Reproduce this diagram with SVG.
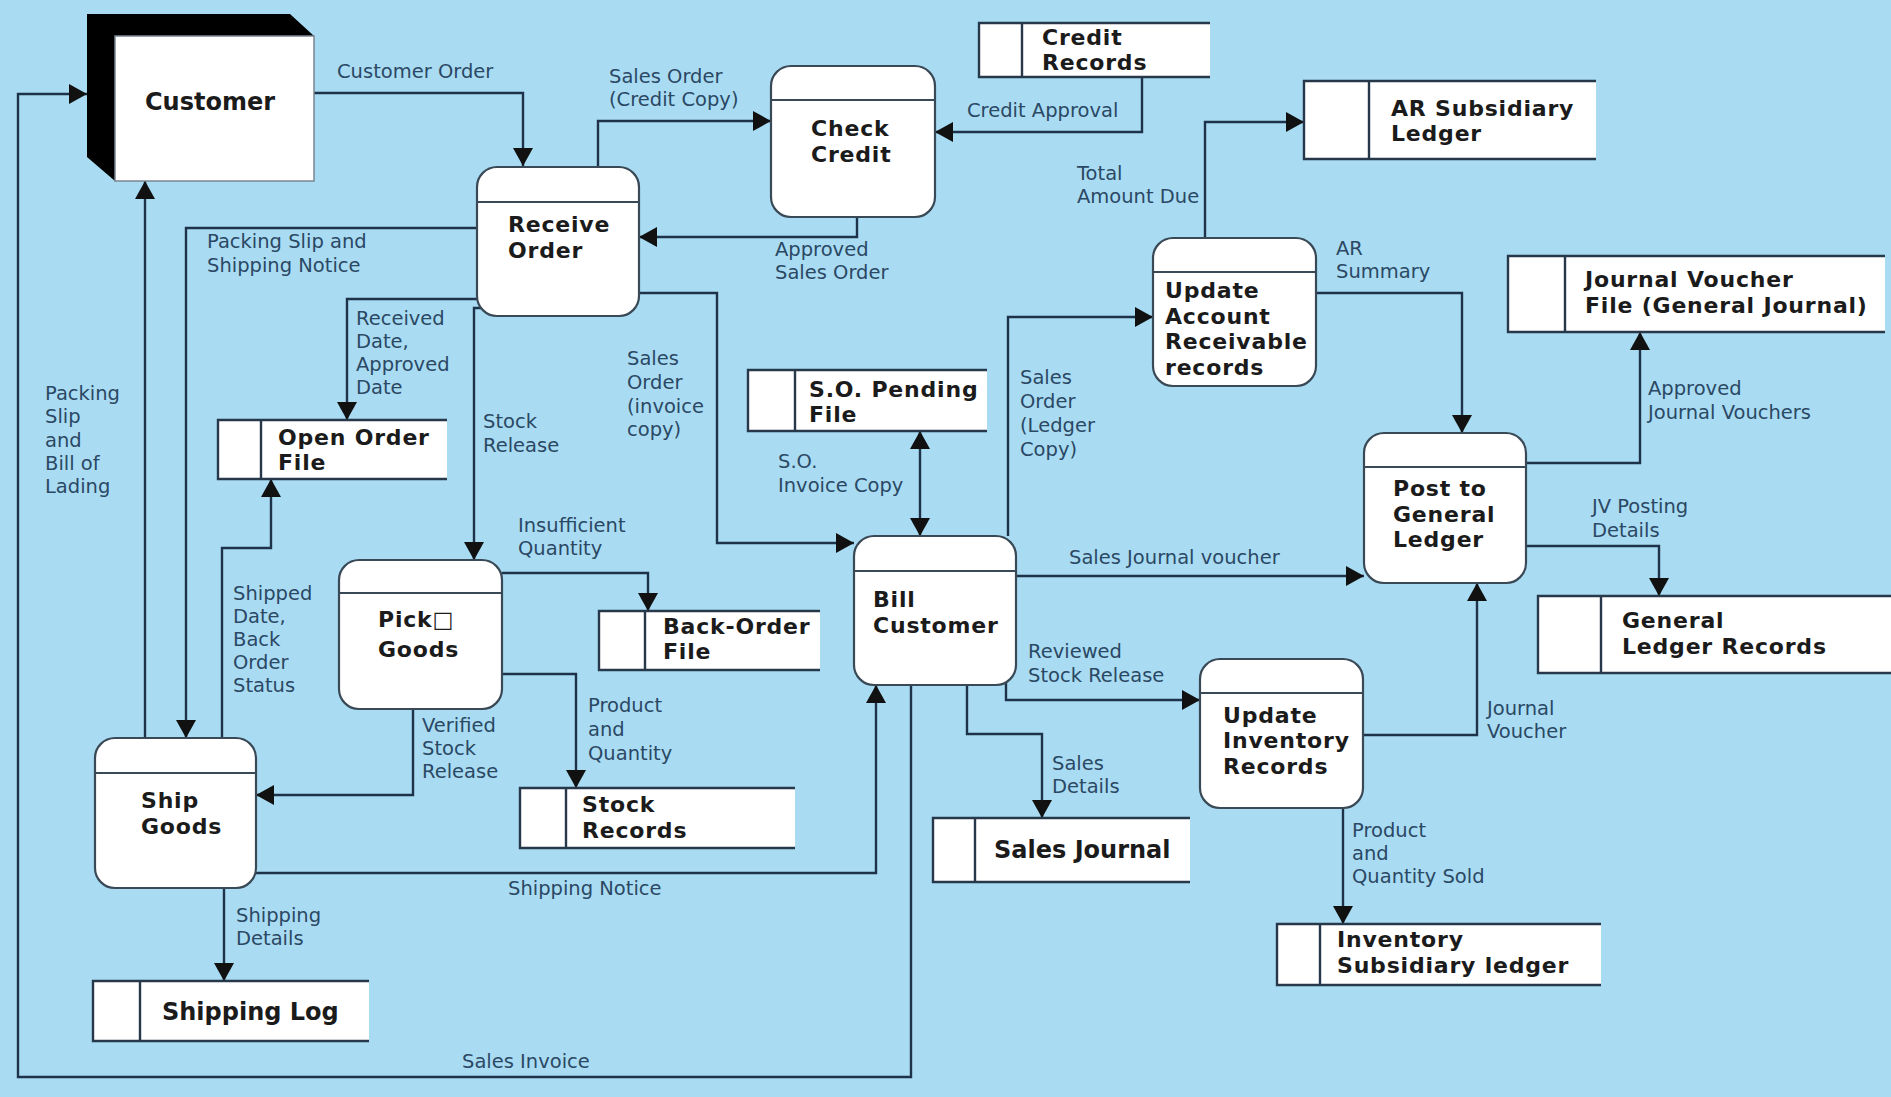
<svg xmlns="http://www.w3.org/2000/svg" width="1891" height="1097" viewBox="0 0 1891 1097">
<defs>
<style>
.bg{fill:#a9dcf3}
.proc{fill:#ffffff;stroke:#3a4956;stroke-width:2.2}
.div{stroke:#3a4956;stroke-width:2.2}
.store{fill:#ffffff}
.sl{fill:none;stroke:#26384a;stroke-width:2.4}
.nt{font-family:"DejaVu Sans","Liberation Sans",sans-serif;font-weight:bold;font-size:22px;letter-spacing:0.8px;fill:#1b1b1b}
.big{font-size:24px;letter-spacing:0px}
.lb{font-family:"DejaVu Sans","Liberation Sans",sans-serif;font-size:19.5px;fill:#2b4864}
.c{fill:none;stroke:#1e3349;stroke-width:2.4}
.ce{marker-end:url(#ah)}
</style>
<marker id="ah" viewBox="0 0 18 20" refX="18" refY="10" markerWidth="18" markerHeight="20" markerUnits="userSpaceOnUse" orient="auto-start-reverse">
<path d="M0,0 L18,10 L0,20 Z" fill="#111111"/>
</marker>
</defs>
<rect class="bg" x="0" y="0" width="1891" height="1097"/>

<g id="connectors">
<path id="c-customer-order" class="c ce" d="M314,93 H523 V166"/>
<path id="c-sales-order-credit" class="c ce" d="M598,167 V121 H771"/>
<path id="c-credit-approval" class="c ce" d="M1142,77 V132 H935"/>
<path id="c-approved-so" class="c ce" d="M857,217 V237 H639"/>
<path id="c-packing-slip-notice" class="c ce" d="M477,228 H186 V738"/>
<path id="c-received-date" class="c ce" d="M478,299 H347 V420"/>
<path id="c-stock-release" class="c ce" d="M481,308 H474 V560"/>
<path id="c-so-invoice" class="c ce" d="M639,293 H717 V543 H854"/>
<path id="c-so-invoice-copy" class="c" d="M920,431 V536" marker-start="url(#ah)" marker-end="url(#ah)"/>
<path id="c-so-ledger" class="c ce" d="M1008,536 V317 H1153"/>
<path id="c-total-due" class="c ce" d="M1205,238 V122 H1304"/>
<path id="c-ar-summary" class="c ce" d="M1316,293 H1462 V433"/>
<path id="c-approved-jv" class="c ce" d="M1526,463 H1640 V332"/>
<path id="c-jv-posting" class="c ce" d="M1526,546 H1659 V596"/>
<path id="c-sales-journal-voucher" class="c ce" d="M1016,576 H1364"/>
<path id="c-reviewed-stock" class="c ce" d="M1006,683 V700 H1200"/>
<path id="c-sales-details" class="c ce" d="M967,685 V734 H1042 V818"/>
<path id="c-sales-invoice" class="c ce" d="M911,685 V1077 H18 V94 H87"/>
<path id="c-packing-bol" class="c ce" d="M145,738 V181"/>
<path id="c-shipped-date" class="c ce" d="M222,738 V548 H271 V479"/>
<path id="c-insufficient" class="c ce" d="M502,573 H648 V611"/>
<path id="c-product-qty" class="c ce" d="M502,674 H576 V788"/>
<path id="c-verified" class="c ce" d="M413,709 V795 H256"/>
<path id="c-shipping-notice" class="c ce" d="M256,873 H876 V685"/>
<path id="c-shipping-details" class="c ce" d="M224,888 V981"/>
<path id="c-journal-voucher" class="c ce" d="M1363,735 H1477 V583"/>
<path id="c-product-qty-sold" class="c ce" d="M1343,808 V924"/>
</g>

<g id="labels">
<text class="lb" x="337" y="78">Customer Order</text>
<text class="lb" x="609" y="83">Sales Order</text>
<text class="lb" x="609" y="106">(Credit Copy)</text>
<text class="lb" x="967" y="117">Credit Approval</text>
<text class="lb" x="775" y="256">Approved</text>
<text class="lb" x="775" y="279">Sales Order</text>
<text class="lb" x="207" y="248">Packing Slip and</text>
<text class="lb" x="207" y="272">Shipping Notice</text>
<text class="lb" x="356" y="325">Received</text>
<text class="lb" x="356" y="348">Date,</text>
<text class="lb" x="356" y="371">Approved</text>
<text class="lb" x="356" y="394">Date</text>
<text class="lb" x="483" y="428">Stock</text>
<text class="lb" x="483" y="452">Release</text>
<text class="lb" x="627" y="365">Sales</text>
<text class="lb" x="627" y="389">Order</text>
<text class="lb" x="627" y="413">(invoice</text>
<text class="lb" x="627" y="436">copy)</text>
<text class="lb" x="778" y="468">S.O.</text>
<text class="lb" x="778" y="492">Invoice Copy</text>
<text class="lb" x="1020" y="384">Sales</text>
<text class="lb" x="1020" y="408">Order</text>
<text class="lb" x="1020" y="432">(Ledger</text>
<text class="lb" x="1020" y="456">Copy)</text>
<text class="lb" x="1077" y="180">Total</text>
<text class="lb" x="1077" y="203">Amount Due</text>
<text class="lb" x="1336" y="255">AR</text>
<text class="lb" x="1336" y="278">Summary</text>
<text class="lb" x="1648" y="395">Approved</text>
<text class="lb" x="1648" y="419">Journal Vouchers</text>
<text class="lb" x="1592" y="513">JV Posting</text>
<text class="lb" x="1592" y="537">Details</text>
<text class="lb" x="1069" y="564">Sales Journal voucher</text>
<text class="lb" x="1028" y="658">Reviewed</text>
<text class="lb" x="1028" y="682">Stock Release</text>
<text class="lb" x="1052" y="770">Sales</text>
<text class="lb" x="1052" y="793">Details</text>
<text class="lb" x="462" y="1068">Sales Invoice</text>
<text class="lb" x="45" y="400">Packing</text>
<text class="lb" x="45" y="423">Slip</text>
<text class="lb" x="45" y="447">and</text>
<text class="lb" x="45" y="470">Bill of</text>
<text class="lb" x="45" y="493">Lading</text>
<text class="lb" x="233" y="600">Shipped</text>
<text class="lb" x="233" y="623">Date,</text>
<text class="lb" x="233" y="646">Back</text>
<text class="lb" x="233" y="669">Order</text>
<text class="lb" x="233" y="692">Status</text>
<text class="lb" x="518" y="532">Insufficient</text>
<text class="lb" x="518" y="555">Quantity</text>
<text class="lb" x="588" y="712">Product</text>
<text class="lb" x="588" y="736">and</text>
<text class="lb" x="588" y="760">Quantity</text>
<text class="lb" x="422" y="732">Verified</text>
<text class="lb" x="422" y="755">Stock</text>
<text class="lb" x="422" y="778">Release</text>
<text class="lb" x="508" y="895">Shipping Notice</text>
<text class="lb" x="236" y="922">Shipping</text>
<text class="lb" x="236" y="945">Details</text>
<text class="lb" x="1487" y="715">Journal</text>
<text class="lb" x="1487" y="738">Voucher</text>
<text class="lb" x="1352" y="837">Product</text>
<text class="lb" x="1352" y="860">and</text>
<text class="lb" x="1352" y="883">Quantity Sold</text>
</g>

<g id="customer">
<polygon points="87,14 290,14 314,36 115,36 115,181 87,157" fill="#000000"/>
<rect x="115" y="36" width="199" height="145" fill="#ffffff" stroke="#7a8590" stroke-width="1.5"/>
<text class="nt big" x="145" y="110">Customer</text>
</g>

<g id="receive-order">
<rect class="proc" x="477" y="167" width="162" height="149" rx="20"/>
<line class="div" x1="477" y1="202" x2="639" y2="202"/>
<text class="nt" x="508" y="232">Receive</text>
<text class="nt" x="508" y="257.8">Order</text>
</g>

<g id="check-credit">
<rect class="proc" x="771" y="66" width="164" height="151" rx="20"/>
<line class="div" x1="771" y1="100" x2="935" y2="100"/>
<text class="nt" x="811" y="136">Check</text>
<text class="nt" x="811" y="161.8">Credit</text>
</g>

<g id="update-ar">
<rect class="proc" x="1153" y="238" width="163" height="148" rx="20"/>
<line class="div" x1="1153" y1="272" x2="1316" y2="272"/>
<text class="nt" x="1165" y="298">Update</text>
<text class="nt" x="1165" y="323.7">Account</text>
<text class="nt" x="1165" y="349.4">Receivable</text>
<text class="nt" x="1165" y="375.1">records</text>
</g>

<g id="post-gl">
<rect class="proc" x="1364" y="433" width="162" height="150" rx="20"/>
<line class="div" x1="1364" y1="467" x2="1526" y2="467"/>
<text class="nt" x="1393" y="496">Post to</text>
<text class="nt" x="1393" y="521.7">General</text>
<text class="nt" x="1393" y="547.4">Ledger</text>
</g>

<g id="bill-customer">
<rect class="proc" x="854" y="536" width="162" height="149" rx="20"/>
<line class="div" x1="854" y1="571" x2="1016" y2="571"/>
<text class="nt" x="873" y="607">Bill</text>
<text class="nt" x="873" y="632.7">Customer</text>
</g>

<g id="pick-goods">
<rect class="proc" x="339" y="560" width="163" height="149" rx="20"/>
<line class="div" x1="339" y1="593" x2="502" y2="593"/>
<text class="nt" x="378" y="627">Pick□</text>
<text class="nt" x="378" y="657">Goods</text>
</g>

<g id="ship-goods">
<rect class="proc" x="95" y="738" width="161" height="150" rx="20"/>
<line class="div" x1="95" y1="773" x2="256" y2="773"/>
<text class="nt" x="141" y="808">Ship</text>
<text class="nt" x="141" y="833.7">Goods</text>
</g>

<g id="update-inventory">
<rect class="proc" x="1200" y="659" width="163" height="149" rx="20"/>
<line class="div" x1="1200" y1="693" x2="1363" y2="693"/>
<text class="nt" x="1223" y="722.6">Update</text>
<text class="nt" x="1223" y="748.3">Inventory</text>
<text class="nt" x="1223" y="774">Records</text>
</g>

<g id="credit-records">
<rect class="store" x="979" y="23" width="231" height="54"/>
<path class="sl" d="M1210,23 H979 V77 H1210 M1022,23 V77"/>
<text class="nt" x="1042" y="44.6">Credit</text>
<text class="nt" x="1042" y="70.3">Records</text>
</g>

<g id="ar-subsidiary-ledger">
<rect class="store" x="1304" y="81" width="292" height="78"/>
<path class="sl" d="M1596,81 H1304 V159 H1596 M1369,81 V159"/>
<text class="nt" x="1391" y="115.6">AR Subsidiary</text>
<text class="nt" x="1391" y="141.3">Ledger</text>
</g>

<g id="journal-voucher-file">
<rect class="store" x="1508" y="256" width="377" height="76"/>
<path class="sl" d="M1885,256 H1508 V332 H1885 M1565,256 V332"/>
<text class="nt" x="1585" y="287.1">Journal Voucher</text>
<text class="nt" x="1585" y="312.8">File (General Journal)</text>
</g>

<g id="so-pending-file">
<rect class="store" x="748" y="370" width="239" height="61"/>
<path class="sl" d="M987,370 H748 V431 H987 M795,370 V431"/>
<text class="nt" x="809" y="396.6">S.O. Pending</text>
<text class="nt" x="809" y="422.3">File</text>
</g>

<g id="open-order-file">
<rect class="store" x="218" y="420" width="229" height="59"/>
<path class="sl" d="M447,420 H218 V479 H447 M261,420 V479"/>
<text class="nt" x="278" y="444.6">Open Order</text>
<text class="nt" x="278" y="470.3">File</text>
</g>

<g id="back-order-file">
<rect class="store" x="599" y="611" width="221" height="59"/>
<path class="sl" d="M820,611 H599 V670 H820 M645,611 V670"/>
<text class="nt" x="663" y="633.6">Back-Order</text>
<text class="nt" x="663" y="659.3">File</text>
</g>

<g id="stock-records">
<rect class="store" x="520" y="788" width="275" height="60"/>
<path class="sl" d="M795,788 H520 V848 H795 M566,788 V848"/>
<text class="nt" x="582" y="812.1">Stock</text>
<text class="nt" x="582" y="837.8">Records</text>
</g>

<g id="shipping-log">
<rect class="store" x="93" y="981" width="276" height="60"/>
<path class="sl" d="M369,981 H93 V1041 H369 M140,981 V1041"/>
<text class="nt big" x="162" y="1020">Shipping Log</text>
</g>

<g id="sales-journal">
<rect class="store" x="933" y="818" width="257" height="64"/>
<path class="sl" d="M1190,818 H933 V882 H1190 M975,818 V882"/>
<text class="nt big" x="994" y="858">Sales Journal</text>
</g>

<g id="inventory-subsidiary-ledger">
<rect class="store" x="1277" y="924" width="324" height="61"/>
<path class="sl" d="M1601,924 H1277 V985 H1601 M1320,924 V985"/>
<text class="nt" x="1337" y="947.1">Inventory</text>
<text class="nt" x="1337" y="972.8">Subsidiary ledger</text>
</g>

<g id="general-ledger-records">
<rect class="store" x="1538" y="596" width="353" height="77"/>
<path class="sl" d="M1891,596 H1538 V673 H1891 M1601,596 V673"/>
<text class="nt" x="1622" y="628.1">General</text>
<text class="nt" x="1622" y="653.8">Ledger Records</text>
</g>
</svg>
